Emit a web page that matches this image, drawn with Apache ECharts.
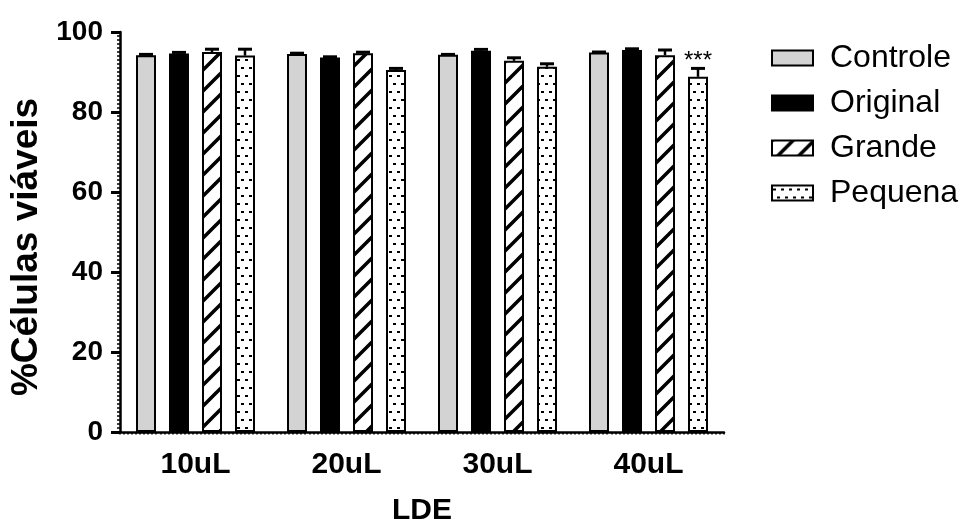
<!DOCTYPE html>
<html><head><meta charset="utf-8">
<script src="https://cdn.jsdelivr.net/npm/echarts@6/dist/echarts.min.js"></script>
<style>html,body{margin:0;padding:0;background:#fff}#c{width:966px;height:522px}</style>
</head><body><div id="c"></div>
<script>
// ---- data ----
const categories = ['10uL', '20uL', '30uL', '40uL'];
const seriesNames = ['Controle', 'Original', 'Grande', 'Pequena'];
const controle = [94.2, 94.5, 94.3, 94.9];
const original = [94.6, 93.6, 95.3, 95.5];
const grande = [95.0, 94.7, 92.8, 94.2];
const pequena = [94.1, 90.5, 91.3, 88.8];
const controleErr = [0.2, 0.2, 0.1, 0.1];
const originalErr = [0.3, 0.2, 0.35, 0.3];
const grandeErr = [0.7, 0.25, 0.75, 1.3];
const pequenaErr = [1.6, 0.4, 0.75, 2.1];
const pequenaSig = ['', '', '', '***'];
const yMin = 0, yMax = 100, yStep = 20;
const axisTitleX = 'LDE';
const axisTitleY = '%Células viáveis';

// ---- patterns ----
function hatchCanvas() {
  const s = 21, c = document.createElement('canvas');
  c.width = s; c.height = s;
  const g = c.getContext('2d');
  g.fillStyle = '#fff'; g.fillRect(0, 0, s, s);
  g.strokeStyle = '#000'; g.lineWidth = 3.5; g.lineCap = 'square';
  for (let k = -1; k <= 1; k++) {
    g.beginPath(); g.moveTo(k * s, s); g.lineTo(k * s + s, 0); g.stroke();
  }
  return c;
}
function dotCanvas() {
  const c = document.createElement('canvas');
  c.width = 8; c.height = 16;
  const g = c.getContext('2d');
  g.fillStyle = '#fff'; g.fillRect(0, 0, 8, 16);
  g.fillStyle = '#000';
  g.fillRect(1, 3, 3, 2);
  g.fillRect(5, 11, 3, 2);
  return c;
}
const fills = [
  '#d3d3d3',
  '#000000',
  { image: hatchCanvas(), repeat: 'repeat' },
  { image: dotCanvas(), repeat: 'repeat' }
];

const values = [controle, original, grande, pequena];
const errors = [controleErr, originalErr, grandeErr, pequenaErr];
const sigs = [null, null, null, pequenaSig];

const FONT = "'Liberation Sans', Arial, sans-serif";
const BAR_W = 20, PITCH = 33;

const errData = [];
for (let s = 0; s < 4; s++) {
  for (let i = 0; i < categories.length; i++) {
    errData.push([i, values[s][i], errors[s][i], s, sigs[s] ? sigs[s][i] : '']);
  }
}

const barSeries = seriesNames.map((name, s) => ({
  name, type: 'bar',
  data: values[s],
  barWidth: BAR_W,
  barGap: '65%',
  itemStyle: { color: fills[s], borderColor: '#000', borderWidth: 2 },
  emphasis: { disabled: true },
  animation: false
}));

const errSeries = {
  type: 'custom',
  name: 'err',
  data: errData.map(d => [d[0], d[1], d[2], d[3]]),
  encode: { x: 0, y: 1 },
  z: 5,
  animation: false,
  silent: true,
  renderItem(params, api) {
    const ci = api.value(0), v = api.value(1), e = api.value(2), si = api.value(3);
    const p0 = api.coord([ci, v]);
    const p1 = api.coord([ci, v + e]);
    const x = p0[0] + (si - 1.5) * PITCH;
    const ch = [
      { type: 'line', shape: { x1: x, y1: p0[1], x2: x, y2: p1[1] }, style: { stroke: '#000', lineWidth: 2.5 } },
      { type: 'line', shape: { x1: x - 7, y1: p1[1], x2: x + 7, y2: p1[1] }, style: { stroke: '#000', lineWidth: 3 } }
    ];
    const sig = errData[params.dataIndex][4];
    if (sig) {
      ch.push({ type: 'text', style: { text: sig, x: x, y: p1[1] + 5, align: 'center', verticalAlign: 'bottom',
        font: "24px 'Liberation Sans', Arial, sans-serif", fill: '#000' } });
    }
    return { type: 'group', children: ch };
  }
};

const chart = echarts.init(document.getElementById('c'));
chart.setOption({
  backgroundColor: '#fff',
  animation: false,
  grid: [
    { left: 120, right: 242, top: 32, bottom: 90, containLabel: false, outerBoundsMode: 'none' },
    { left: 120, right: 242, top: 32, bottom: 90, containLabel: false, outerBoundsMode: 'none' }
  ],
  legend: {
    data: seriesNames,
    orient: 'vertical',
    left: 766, top: 37,
    icon: 'rect',
    itemWidth: 41, itemHeight: 15,
    itemGap: 13,
    selectedMode: false,
    textStyle: { fontFamily: FONT, fontSize: 32, color: '#000', lineHeight: 30, padding: [0, 0, 0, 12] }
  },
  xAxis: [
    {
      type: 'category', data: categories, gridIndex: 0,
      name: axisTitleX, nameLocation: 'middle', nameGap: 64,
      nameTextStyle: { fontFamily: FONT, fontSize: 30, fontWeight: 'bold', color: '#000' },
      axisLine: { lineStyle: { color: '#000', width: 2.5 } },
      axisTick: { alignWithLabel: true, length: 10, lineStyle: { color: '#000', width: 3 } },
      axisLabel: { margin: 18, fontFamily: FONT, fontSize: 30, fontWeight: 'bold', color: '#000' },
      splitLine: { show: false }
    },
    {
      type: 'value', gridIndex: 1, min: 0, max: 150, interval: 1,
      axisLine: { show: false },
      axisTick: { show: true, length: 2.5, lineStyle: { color: '#000', width: 1.5 } },
      axisLabel: { show: false },
      splitLine: { show: false }
    }
  ],
  yAxis: [
    {
      type: 'value', gridIndex: 0, min: yMin, max: yMax, interval: yStep,
      name: axisTitleY, nameLocation: 'middle', nameGap: 67,
      nameTextStyle: { fontFamily: FONT, fontSize: 37, fontWeight: 'bold', color: '#000', padding: [0, 30, 0, 0] },
      axisLine: { show: true, lineStyle: { color: '#000', width: 2.5 } },
      axisTick: { show: true, length: 9, lineStyle: { color: '#000', width: 3 } },
      minorTick: { show: true, splitNumber: 20, length: 3, lineStyle: { color: '#000', width: 1.5 } },
      axisLabel: { margin: 17, fontFamily: FONT, fontSize: 28, fontWeight: 'bold', color: '#000' },
      splitLine: { show: false }
    },
    {
      type: 'value', gridIndex: 1, min: 0, max: 1, show: false
    }
  ],
  series: barSeries.concat([errSeries])
});
</script>
</body></html>
